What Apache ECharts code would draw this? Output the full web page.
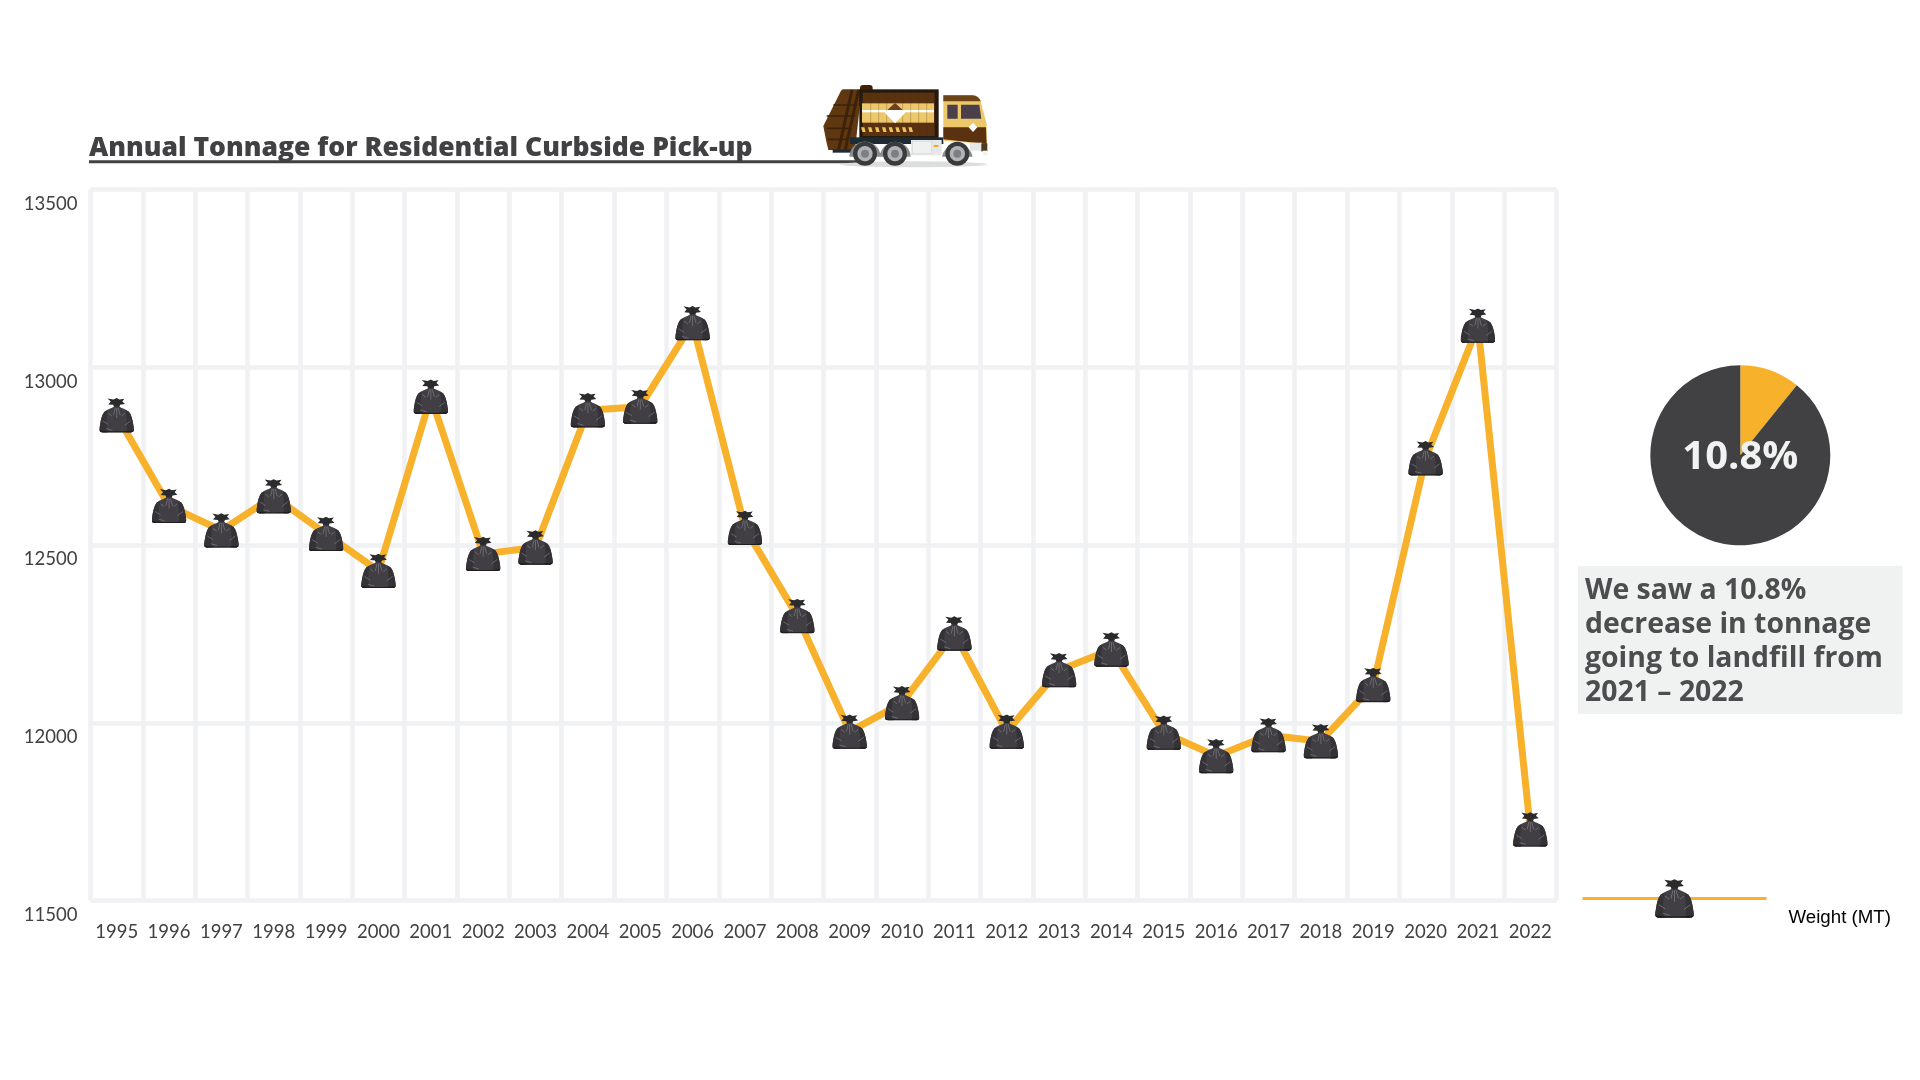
<!DOCTYPE html>
<html>
<head>
<meta charset="utf-8">
<title>Annual Tonnage for Residential Curbside Pick-up</title>
<script src="https://cdn.jsdelivr.net/npm/echarts@6/dist/echarts.min.js"></script>
<style>
    html, body { margin: 0; padding: 0; background: #fff; }
    #chart { width: 1920px; height: 1080px; }
</style>
</head>
<body>
<div id="chart"></div>
<script>
// chart values
var years = ['1995', '1996', '1997', '1998', '1999', '2000', '2001', '2002', '2003', '2004',
    '2005', '2006', '2007', '2008', '2009', '2010', '2011', '2012', '2013', '2014',
    '2015', '2016', '2017', '2018', '2019', '2020', '2021', '2022'];
var weights = [12865, 12610, 12541, 12637, 12531, 12427, 12917, 12475, 12493, 12879,
    12889, 13124, 12548, 12300, 11975, 12055, 12251, 11975, 12148, 12206,
    11972, 11906, 11965, 11948, 12106, 12744, 13117, 11700];
var pieValues = [10.8, 89.2];
var pieLabel = '10.8%';
var titleText = 'Annual Tonnage for Residential Curbside Pick-up';
var seriesName = 'Weight (MT)';
var noteLines = ['We saw a 10.8%', 'decrease in tonnage', 'going to landfill from', '2021 – 2022'];

var ORANGE = '#f8b12a';
var DARK = '#414042';
var GRID = '#f0f1f3';

// garbage bag marker
var bagSvg = '<svg xmlns="http://www.w3.org/2000/svg" viewBox="0 0 100 100">' +
    '<path d="M24 2 L41 5 L50 1 L58 5 L72 3 L66 11 L74 18 L60 20 L57 28 L43 28 L40 20 L26 19 L33 11 Z" fill="#2b2a2d"/>' +
    '<path d="M43 25 C36 30 24 32 15 40 C8 48 5 62 3 74 C2 82 0 88 1 93 C2 97 5 99 10 99 L90 99 C95 99 98 97 99 93 C100 88 98 82 97 74 C95 62 92 48 85 40 C76 32 64 30 57 25 Z" fill="#413f44"/>' +
    '<path d="M15 40 C8 48 5 62 3 74 C2 82 0 88 1 93 C2 97 5 99 10 99 L24 99 C20 80 20 60 24 36 Z M85 40 C92 48 95 62 97 74 C98 82 100 88 99 93 C98 97 95 99 90 99 L78 99 C80 80 80 60 76 36 Z" fill="#343236"/>' +
    '<path d="M46 29 L41 50 M50 29 L50 58 M54 29 L60 50 M10 66 L26 76 M90 66 L74 78 M20 88 L38 93 M26 44 L36 52 M74 44 L64 52" stroke="#85848a" stroke-width="1.8" fill="none"/>' +
    '<path d="M1 93 C2 97 5 99 10 99 L90 99 C95 99 98 97 99 93 C80 97 22 97 1 93 Z" fill="#1f1e21"/>' +
    '</svg>';
var bagIcon = 'image://data:image/svg+xml;charset=utf-8,' + encodeURIComponent(bagSvg);

// truck picture beside the title
var truckSvg = '<svg xmlns="http://www.w3.org/2000/svg" viewBox="120 65 520 265">' +
    '<ellipse cx="400" cy="313" rx="222" ry="9" fill="#dcdddd"/>' +
    '<rect x="240" y="75" width="38" height="24" rx="9" fill="#3d2209"/>' +
    '<path d="M130 198 L183 92 Q186 88 192 88 L245 88 L225 270 L145 270 L138 240 Z" fill="#5f3811"/>' +
    '<path d="M216 90 L176 268 M236 90 L196 268" stroke="#3d2209" stroke-width="9" fill="none"/>' +
    '<path d="M160 135 L232 135 M140 168 L225 168 M140 205 L215 205 M143 238 L208 238" stroke="#3d2209" stroke-width="5" fill="none"/>' +
    '<rect x="238" y="88" width="238" height="148" fill="#241a0e"/>' +
    '<rect x="248" y="98" width="216" height="130" fill="#5a3210"/>' +
    '<rect x="246" y="130" width="216" height="58" fill="#ecc86a"/>' +
    '<rect x="246" y="150" width="216" height="7" fill="#fff"/>' +
    '<path d="M272 98V228 M296 98V228 M320 98V228 M344 98V228 M368 98V228 M392 98V228 M416 98V228 M440 98V228" stroke="#43250b" stroke-opacity="0.35" stroke-width="2"/>' +
    '<path d="M345 128 L376 158 L345 190 L314 158 Z" fill="#fff"/>' +
    '<path d="M345 128 L368 150 L322 150 Z" fill="#6d3f1c"/>' +
    '<path d="M243 202h10l4 14h-10z M264 202h10l4 14h-10z M285 202h10l4 14h-10z M306 202h10l4 14h-10z M326 202h10l4 14h-10z M346 202h10l4 14h-10z M366 202h10l4 14h-10z M385 202h10l4 14h-10z" fill="#ecc15a"/>' +
    '<rect x="210" y="232" width="280" height="20" fill="#1f2b33"/>' +
    '<rect x="158" y="268" width="60" height="10" fill="#1f2b33"/>' +
    '<path d="M490 106 L578 106 Q596 108 602 124 L620 192 L620 252 L490 242 Z" fill="#ecc86a"/>' +
    '<path d="M490 106 L578 106 Q596 108 602 124 L490 124 Z" fill="#6b4518"/>' +
    '<path d="M490 202 L618 202 L620 252 L490 238 Z" fill="#5a3210"/>' +
    '<path d="M502 134h31v42h-31z M543 134h55l6 42h-61z" fill="#4b3f4b"/>' +
    '<path d="M579 188 L592 202 L579 216 L566 202 Z" fill="#fff"/>' +
    '<rect x="393" y="240" width="92" height="46" fill="#e6e7e8"/>' +
    '<rect x="398" y="244" width="56" height="36" fill="#eff0f0" stroke="#c5c7c9"/>' +
    '<rect x="461" y="255" width="14" height="6" fill="#f6a623"/>' +
    '<rect x="570" y="248" width="36" height="24" fill="#e6e7e8"/>' +
    '<rect x="604" y="250" width="18" height="24" fill="#4d3a20"/>' +
    '<rect x="608" y="272" width="14" height="14" fill="#f1f2f2"/>' +
    '<path d="M208 290 A47 47 0 0 1 300 278 L302 278 A46 46 0 0 1 392 290 Z M486 290 A47 47 0 0 1 578 290 Z" fill="#8a8c8e"/>' +
    '<g fill="#3a3a3c"><circle cx="255" cy="281" r="36"/><circle cx="345" cy="281" r="36"/><circle cx="532" cy="281" r="36"/></g>' +
    '<g fill="#b1b3b6"><circle cx="255" cy="281" r="23"/><circle cx="345" cy="281" r="23"/><circle cx="532" cy="281" r="23"/></g>' +
    '<g fill="#7d7f82"><circle cx="255" cy="281" r="12"/><circle cx="345" cy="281" r="12"/><circle cx="532" cy="281" r="12"/></g>' +
    '</svg>';

var chart = echarts.init(document.getElementById('chart'));
var option = {
    animation: false,
    backgroundColor: '#fff',
    title: {
        text: titleText,
        left: 89,
        top: 134.5,
        padding: 0,
        textStyle: { fontFamily: 'Open Sans', fontWeight: 800, fontSize: 26.5, color: DARK }
    },
    legend: {
        data: [seriesName],
        left: 1581,
        top: 860.5,
        padding: 0,
        itemWidth: 184,
        itemHeight: 49,
        symbolKeepAspect: true,
        lineStyle: { width: 3, color: ORANGE },
        // blank first line pushes the name below the legend line
        formatter: function(name) {
            return ' \n' + name;
        },
        textStyle: { fontFamily: 'Liberation Sans', fontSize: 18.7, lineHeight: 38, color: '#000', padding: [0, 0, 0, 17] },
        selectedMode: false
    },
    grid: { left: 90.5, top: 189.5, width: 1466, height: 711, containLabel: false },
    xAxis: {
        type: 'category',
        data: years,
        boundaryGap: true,
        axisLine: { show: false },
        axisTick: { show: false },
        axisLabel: { interval: 0, margin: 22, fontFamily: 'Lato', fontSize: 18.5, color: DARK },
        splitLine: { show: true, interval: 0, lineStyle: { color: GRID, width: 4.5 } }
    },
    yAxis: {
        type: 'value',
        min: 11500,
        max: 13500,
        interval: 500,
        axisLine: { show: false },
        axisTick: { show: false },
        axisLabel: {
            margin: 13,
            fontFamily: 'Lato',
            fontSize: 18.5,
            color: DARK,
            verticalAlign: 'top',
            padding: [5, 0, 0, 0],
            formatter: function(value) {
                return String(value);
            }
        },
        splitLine: { show: true, lineStyle: { color: GRID, width: 4.5 } }
    },
    series: [{
        name: seriesName,
        type: 'line',
        data: weights,
        smooth: false,
        symbol: bagIcon,
        symbolSize: [35, 35],
        showAllSymbol: true,
        silent: true,
        lineStyle: { color: ORANGE, width: 7 },
        itemStyle: { color: ORANGE }
    }, {
        type: 'pie',
        center: [1740.3, 455.3],
        radius: [0, 90],
        startAngle: 90,
        silent: true,
        labelLine: { show: false },
        label: { show: false },
        data: [{
            value: pieValues[0],
            itemStyle: { color: ORANGE },
            label: {
                show: true,
                position: 'center',
                formatter: pieLabel,
                offset: [0, 2.5],
                fontFamily: 'Open Sans',
                fontWeight: 'bold',
                fontSize: 40,
                color: '#f1f2f2'
            }
        }, {
            value: pieValues[1],
            itemStyle: { color: DARK }
        }]
    }],
    graphic: [
        // title underline runs in under the truck
        { type: 'rect', left: 89, top: 160.3, shape: { width: 770, height: 3 }, style: { fill: DARK } },
        {
            type: 'image',
            left: 820,
            top: 81.67,
            style: {
                image: 'data:image/svg+xml;charset=utf-8,' + encodeURIComponent(truckSvg),
                width: 173.33,
                height: 88.33
            }
        },
        // note box
        { type: 'rect', left: 1578, top: 566, shape: { width: 324.7, height: 148 }, style: { fill: '#f0f1f1' } },
        {
            type: 'text',
            left: 1585,
            top: 574,
            style: {
                text: noteLines.join('\n'),
                fontFamily: 'Open Sans',
                fontWeight: 'bold',
                fontSize: 28.4,
                lineHeight: 34,
                fill: '#4d4d4f'
            }
        }
    ]
};
chart.setOption(option);
</script>
</body>
</html>
